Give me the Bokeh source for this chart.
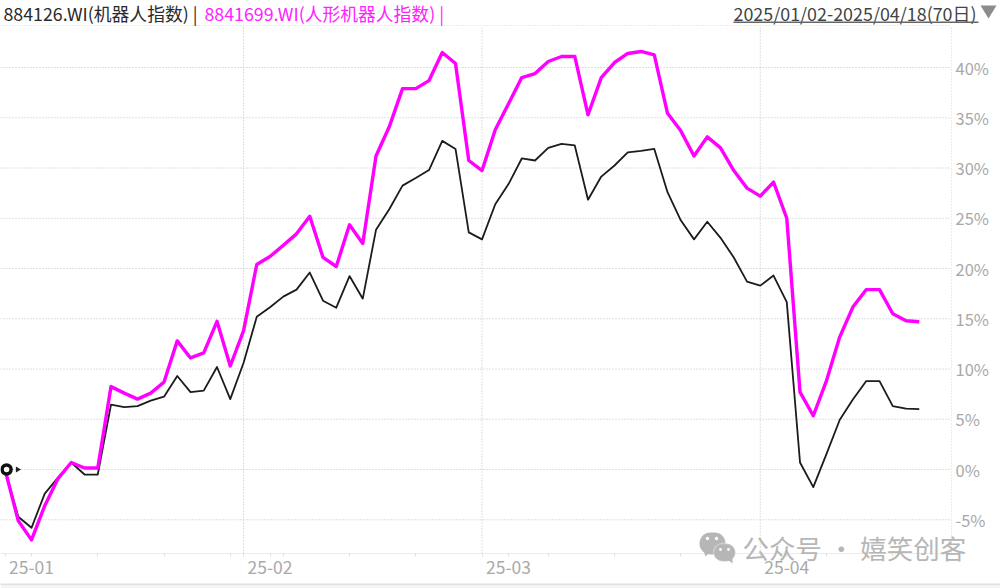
import math
from bokeh.embed import file_html
from bokeh.resources import INLINE
from bokeh.plotting import figure
from bokeh.models import (ColumnDataSource, Range1d, LinearAxis, FixedTicker, Label,
                          BoxAnnotation, PolyAnnotation)

# ---- data (percent change since 2025/01/02) ----
robot_index = [0, -4.7, -5.8, -2.4, -0.8, 0.7, -0.5, -0.5, 6.45, 6.2,
               6.3, 6.85, 7.25, 9.3, 7.7, 7.85, 10.2, 7.0, 10.6, 15.2,
               16.15, 17.2, 17.9, 19.6, 16.8, 16.1, 19.25, 17.0, 23.85, 25.9,
               28.25, 29.0, 29.8, 32.7, 31.9, 23.6, 22.9, 26.4, 28.4, 30.95,
               30.75, 32.0, 32.4, 32.25, 26.85, 29.15, 30.25, 31.55, 31.7, 31.9,
               27.6, 24.8, 22.9, 24.65, 23.05, 21.1, 18.7, 18.3, 19.3, 16.65,
               0.7, -1.75, 1.55, 4.95, 7.0, 8.8, 8.8, 6.3, 6.05, 6.0]
humanoid_index = [0, -5.1, -7.0, -3.6, -0.9, 0.7, 0.15, 0.15, 8.25, 7.6,
                  7.0, 7.6, 8.7, 12.8, 11.1, 11.6, 14.75, 10.3, 13.8, 20.4,
                  21.2, 22.3, 23.45, 25.2, 21.1, 20.2, 24.35, 22.5, 31.2, 34.1,
                  37.9, 37.9, 38.7, 41.5, 40.4, 30.75, 29.75, 33.8, 36.4, 39.0,
                  39.4, 40.6, 41.1, 41.1, 35.3, 39.0, 40.5, 41.4, 41.6, 41.25,
                  35.45, 33.7, 31.2, 33.1, 32.0, 29.75, 28.0, 27.2, 28.6, 25.0,
                  7.7, 5.35, 8.85, 13.2, 16.2, 17.9, 17.9, 15.5, 14.8, 14.7]
days = list(range(len(robot_index)))

y_ticks = [-5, 0, 5, 10, 15, 20, 25, 30, 35, 40]
y_labels = ["-5%", "0%", "5%", "10%", "15%", "20%", "25%", "30%", "35%", "40%"]
month_starts = [18, 36, 57]
x_label_days = [2, 20, 38, 59]
x_labels = ["25-01", "25-02", "25-03", "25-04"]
x_minor_days = [0, 7, 12, 17, 18, 21, 26, 31, 36, 41, 46, 51, 57, 62, 67]

header_black = "884126.WI(机器人指数) |"
header_magenta = "8841699.WI(人形机器人指数) |"
header_dates = "2025/01/02-2025/04/18(70日)"
watermark = "公众号 · 嬉笑创客"

W, H = 1000, 588
FONT = "Noto Sans CJK SC"
GRID = "#c0c0c0"
LABEL = "#a9a9a9"
MARK = "#b6b6b6"

# extent of the plotting area in data units (the frame fills the whole page)
X_LEFT, X_RIGHT = -0.34, 71.43
Y_BOTTOM, Y_TOP = -8.36, 44.18

p = figure(width=W, height=H, output_backend="svg", toolbar_location=None,
           x_range=Range1d(-0.34, 75.13), y_range=Range1d(-11.84, 46.67),
           x_axis_location=None, y_axis_location=None,
           min_border_left=0, min_border_right=0, min_border_top=0, min_border_bottom=0)
p.outline_line_color = None
p.background_fill_color = "white"
p.xgrid.visible = False
p.ygrid.visible = False

x_axis = LinearAxis(ticker=FixedTicker(ticks=x_label_days, minor_ticks=x_minor_days),
                    major_label_overrides=dict(zip(x_label_days, x_labels)),
                    fixed_location=Y_BOTTOM, bounds=(X_LEFT, X_RIGHT))
x_axis.axis_line_color = "#ececec"
x_axis.major_tick_line_color = "#dedede"
x_axis.minor_tick_line_color = "#dedede"
x_axis.major_tick_in = 0
x_axis.major_tick_out = 3
x_axis.minor_tick_in = 0
x_axis.minor_tick_out = 3
x_axis.major_label_text_color = LABEL
x_axis.major_label_text_font = FONT
x_axis.major_label_text_font_size = "17.5px"
x_axis.major_label_standoff = 4
p.add_layout(x_axis, "below")

y_axis = LinearAxis(ticker=FixedTicker(ticks=y_ticks),
                    major_label_overrides=dict(zip(y_ticks, y_labels)),
                    fixed_location=X_RIGHT, bounds=(Y_BOTTOM, Y_TOP))
y_axis.axis_line_color = None
y_axis.major_tick_line_color = None
y_axis.minor_tick_line_color = None
y_axis.major_tick_in = 0
y_axis.major_tick_out = 0
y_axis.minor_tick_in = 0
y_axis.minor_tick_out = 0
y_axis.major_label_text_color = LABEL
y_axis.major_label_text_font = FONT
y_axis.major_label_text_font_size = "16.5px"
y_axis.major_label_standoff = 4
p.add_layout(y_axis, "right")

# dotted grid, limited to the plotting area
p.segment(x0=[X_LEFT] * len(y_ticks), x1=[X_RIGHT] * len(y_ticks), y0=y_ticks, y1=y_ticks,
          line_color=GRID, line_dash="1 2", line_width=1)
p.segment(x0=month_starts, x1=month_starts, y0=[Y_BOTTOM] * len(month_starts), y1=[Y_TOP] * len(month_starts),
          line_color=GRID, line_dash="1 2", line_width=1)
p.segment(x0=[X_LEFT], x1=[X_RIGHT], y0=[Y_TOP], y1=[Y_TOP], line_color="#d8d8d8", line_dash="1 2", line_width=1)
p.segment(x0=[X_RIGHT], x1=[X_RIGHT], y0=[Y_BOTTOM], y1=[Y_TOP], line_color="#d8d8d8", line_dash="1 2", line_width=1)

src = ColumnDataSource(dict(day=days, robot=robot_index, humanoid=humanoid_index))
p.line("day", "robot", source=src, line_color="#1c1c1c", line_width=1.8, line_join="round")
p.line("day", "humanoid", source=src, line_color="#ff00ff", line_width=3.4, line_join="round")

# start marker on the zero line
p.scatter([days[0] + 0.12], [robot_index[0]], marker="circle", size=9, fill_color="white",
          line_color="#111111", line_width=3.5)
p.scatter([days[0] + 0.95], [robot_index[0]], marker="triangle", size=6, angle=-math.pi / 2,
          fill_color="#222222", line_color=None)


def text(ref_x, ref_y, s, color, size):
    p.add_layout(Label(x=ref_x, y=ref_y, x_units="canvas", y_units="canvas", text=s,
                       text_color=color, text_font=FONT, text_font_size=size,
                       text_align="left", text_baseline="middle"))


def box(l, r, t, b, color, line=None, radius=0):
    p.add_layout(BoxAnnotation(left=l, right=r, top=t, bottom=b,
                               left_units="canvas", right_units="canvas",
                               top_units="canvas", bottom_units="canvas",
                               fill_color=color, fill_alpha=1, line_color=line, line_width=1.5,
                               border_radius=radius, level="overlay"))


def tail(xs, ys, color=MARK):
    p.add_layout(PolyAnnotation(xs=xs, ys=ys, xs_units="canvas", ys_units="canvas",
                                fill_color=color, fill_alpha=1, line_color=None, level="overlay"))


text(3, 12.5, header_black, "#2a2a2a", "17.8px")
text(204, 12.5, header_magenta, "#ff22ff", "17.8px")
text(733, 12.5, header_dates, "#444444", "17.9px")
box(733, 978, 21, 22.5, "#666666")
tail([980, 996, 988], [5, 5, 18], "#8c8c8c")

# watermark
text(742, 547, watermark, MARK, "26.5px")
box(699, 725, 532, 554, MARK, radius=11)
tail([703, 709, 705], [550, 552, 556])
box(713, 735, 543, 561, MARK, line="white", radius=9)
tail([727, 732, 732], [559, 558, 563])
for cx, cy, r in [(707, 538, 1.7), (716, 538, 1.7), (720, 549, 1.4), (728, 549, 1.4)]:
    box(cx - r, cx + r, cy - r, cy + r, "white", radius=2)

# light band along the bottom edge
box(0, W, 583, 584.5, "#e0e0e0")
box(0, W, 584.5, 588, "#f4f4f4")

open("out.html", "w").write(file_html(p, INLINE))
